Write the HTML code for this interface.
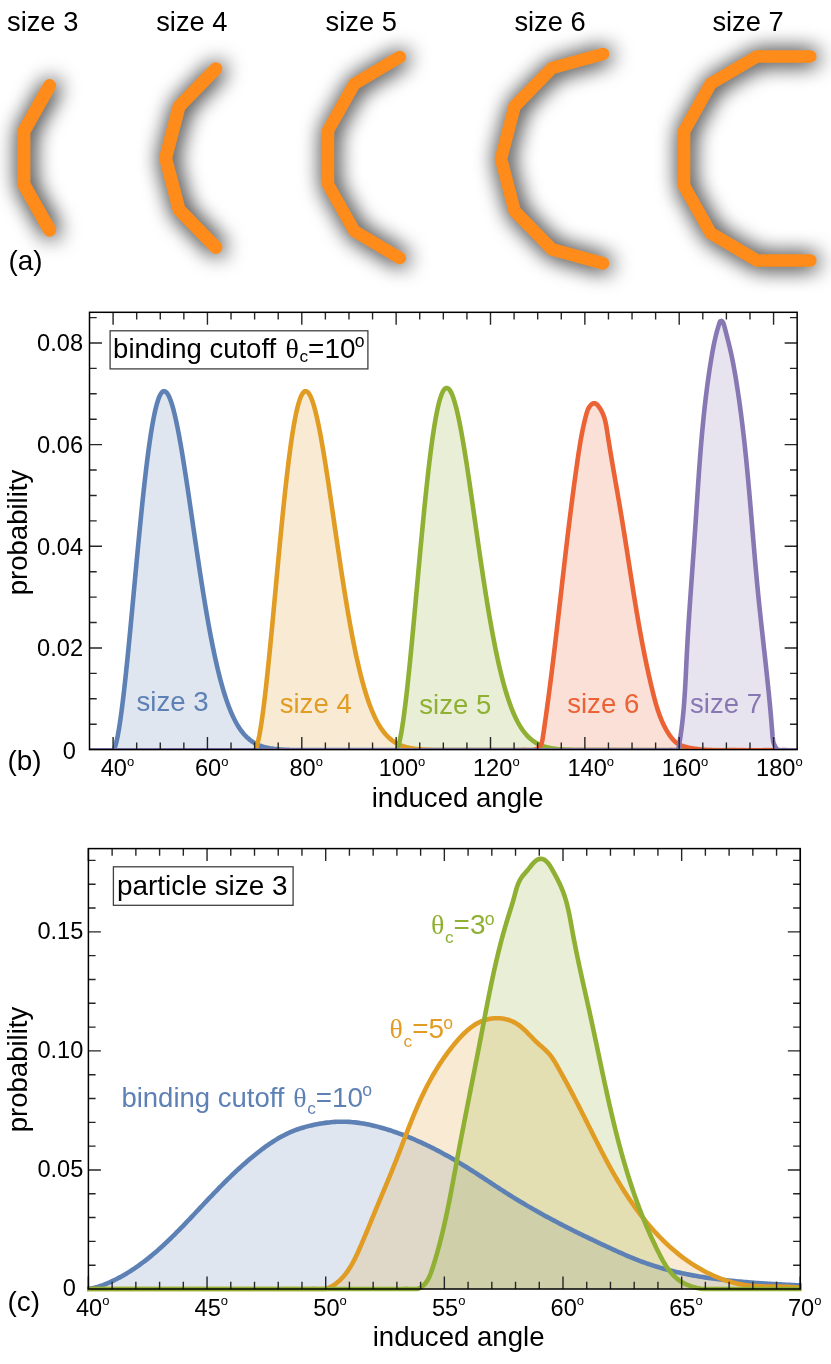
<!DOCTYPE html>
<html><head><meta charset="utf-8"><title>figure</title>
<style>
html,body{margin:0;padding:0;background:#fff;}
svg{display:block;will-change:transform;}
text{font-family:"Liberation Sans",sans-serif;fill:#000;}
</style></head><body>
<svg width="831" height="1364" viewBox="0 0 831 1364">
<defs>
<filter id="sh" filterUnits="userSpaceOnUse" x="-40" y="0" width="911" height="320" color-interpolation-filters="sRGB">
<feGaussianBlur in="SourceAlpha" stdDeviation="11" result="b"/>
<feOffset in="b" dx="1.5" dy="1" result="o0"/>
<feComponentTransfer in="o0" result="o"><feFuncA type="linear" slope="1.15"/></feComponentTransfer>
<feFlood flood-color="#000" flood-opacity="1"/>
<feComposite in2="o" operator="in" result="s"/>
<feMerge><feMergeNode in="s"/><feMergeNode in="SourceGraphic"/></feMerge>
</filter>

<clipPath id="cb"><rect x="89.5" y="309.3" width="707.6" height="440.7"/></clipPath>
<clipPath id="cc"><rect x="87.10000000000001" y="845.6" width="714.5" height="446.4"/></clipPath>
<path id="p0" d="M77.50,749.60 89.50,749.60 113.09,749.60 114.27,748.18 115.45,745.01 116.63,740.50 117.81,734.84 118.99,728.16 120.17,720.55 121.34,712.11 122.52,702.92 123.70,693.06 124.88,682.60 126.06,671.61 127.24,660.17 128.42,648.35 129.60,636.21 130.78,623.83 131.96,611.26 133.14,598.59 134.32,585.86 135.50,573.15 136.68,560.51 137.86,548.00 139.04,535.68 140.22,523.61 141.39,511.84 142.57,500.41 143.75,489.38 144.93,478.78 146.11,468.65 147.29,459.04 148.47,449.98 149.65,441.49 150.83,433.60 152.01,426.33 153.19,419.72 154.37,413.76 155.55,408.47 156.73,403.86 157.91,399.94 159.09,396.71 160.27,394.16 161.44,392.30 162.62,391.11 163.80,390.58 164.98,390.71 166.16,391.47 167.34,392.85 168.52,394.83 169.70,397.38 170.88,400.49 172.06,404.12 173.24,408.25 174.42,412.86 175.60,417.91 176.78,423.38 177.96,429.23 179.14,435.43 180.32,441.96 181.50,448.78 182.67,455.86 183.85,463.16 185.03,470.67 186.21,478.35 187.39,486.18 188.57,494.11 189.75,502.13 190.93,510.21 192.11,518.32 193.29,526.45 194.47,534.56 195.65,542.63 196.83,550.65 198.01,558.60 199.19,566.45 200.37,574.19 201.55,581.81 202.72,589.29 203.90,596.61 205.08,603.78 206.26,610.77 207.44,617.59 208.62,624.21 209.80,630.64 210.98,636.87 212.16,642.89 213.34,648.71 214.52,654.32 215.70,659.72 216.88,664.90 218.06,669.88 219.24,674.65 220.42,679.21 221.60,683.56 222.78,687.72 223.95,691.67 225.13,695.44 226.31,699.01 227.49,702.40 228.67,705.60 229.85,708.64 231.03,711.51 232.21,714.21 233.39,716.75 234.57,719.15 235.75,721.40 236.93,723.51 238.11,725.49 239.29,727.34 240.47,729.07 241.65,730.69 242.83,732.20 244.00,733.60 245.18,734.91 246.36,736.12 247.54,737.25 248.72,738.29 249.90,739.25 251.08,740.15 252.26,740.97 253.44,741.73 254.62,742.43 255.80,743.08 256.98,743.67 258.16,744.22 259.34,744.72 260.52,745.17 261.70,745.59 262.88,745.97 264.05,746.32 265.23,746.64 266.41,746.93 267.59,747.20 268.77,747.44 269.95,747.66 271.13,747.85 272.31,748.03 273.49,748.20 274.67,748.34 275.85,748.47 277.03,748.59 278.21,748.70 279.39,748.80 280.57,748.89 281.75,748.96 282.93,749.03 284.11,749.10 285.28,749.15 286.46,749.20 287.64,749.25 288.82,749.29 290.00,749.33 291.18,749.36 292.36,749.39 293.54,749.41 294.72,749.43 295.90,749.45 297.08,749.47 298.26,749.49 299.44,749.50 300.62,749.51 301.80,749.52 797.15,749.60 809.15,749.60 L809.1,749.6"/>
<path id="p1" d="M77.50,749.60 89.50,749.60 254.62,749.60 255.80,748.18 256.98,745.01 258.16,740.50 259.34,734.84 260.52,728.16 261.70,720.55 262.88,712.11 264.05,702.92 265.23,693.06 266.41,682.60 267.59,671.61 268.77,660.17 269.95,648.35 271.13,636.21 272.31,623.83 273.49,611.26 274.67,598.59 275.85,585.86 277.03,573.15 278.21,560.51 279.39,548.00 280.57,535.68 281.75,523.61 282.93,511.84 284.11,500.41 285.28,489.38 286.46,478.78 287.64,468.65 288.82,459.04 290.00,449.98 291.18,441.49 292.36,433.60 293.54,426.33 294.72,419.72 295.90,413.76 297.08,408.47 298.26,403.86 299.44,399.94 300.62,396.71 301.80,394.16 302.98,392.30 304.16,391.11 305.33,390.58 306.51,390.71 307.69,391.47 308.87,392.85 310.05,394.83 311.23,397.38 312.41,400.49 313.59,404.12 314.77,408.25 315.95,412.86 317.13,417.91 318.31,423.38 319.49,429.23 320.67,435.43 321.85,441.96 323.03,448.78 324.21,455.86 325.38,463.16 326.56,470.67 327.74,478.35 328.92,486.18 330.10,494.11 331.28,502.13 332.46,510.21 333.64,518.32 334.82,526.45 336.00,534.56 337.18,542.63 338.36,550.65 339.54,558.60 340.72,566.45 341.90,574.19 343.08,581.81 344.26,589.29 345.44,596.61 346.61,603.78 347.79,610.77 348.97,617.59 350.15,624.21 351.33,630.64 352.51,636.87 353.69,642.89 354.87,648.71 356.05,654.32 357.23,659.72 358.41,664.90 359.59,669.88 360.77,674.65 361.95,679.21 363.13,683.56 364.31,687.72 365.49,691.67 366.66,695.44 367.84,699.01 369.02,702.40 370.20,705.60 371.38,708.64 372.56,711.51 373.74,714.21 374.92,716.75 376.10,719.15 377.28,721.40 378.46,723.51 379.64,725.49 380.82,727.34 382.00,729.07 383.18,730.69 384.36,732.20 385.54,733.60 386.72,734.91 387.89,736.12 389.07,737.25 390.25,738.29 391.43,739.25 392.61,740.15 393.79,740.97 394.97,741.73 396.15,742.43 397.33,743.08 398.51,743.67 399.69,744.22 400.87,744.72 402.05,745.17 403.23,745.59 404.41,745.97 405.59,746.32 406.77,746.64 407.94,746.93 409.12,747.20 410.30,747.44 411.48,747.66 412.66,747.85 413.84,748.03 415.02,748.20 416.20,748.34 417.38,748.47 418.56,748.59 419.74,748.70 420.92,748.80 422.10,748.89 423.28,748.96 424.46,749.03 425.64,749.10 426.82,749.15 427.99,749.20 429.17,749.25 430.35,749.29 431.53,749.33 432.71,749.36 433.89,749.39 435.07,749.41 436.25,749.43 437.43,749.45 438.61,749.47 439.79,749.49 440.97,749.50 442.15,749.51 443.33,749.52 797.15,749.60 809.15,749.60 L809.1,749.6"/>
<path id="p2" d="M77.50,749.60 89.50,749.60 396.15,749.60 397.32,748.17 398.49,744.97 399.65,740.42 400.82,734.71 401.99,727.96 403.16,720.29 404.32,711.77 405.49,702.50 406.66,692.55 407.83,681.99 408.99,670.91 410.16,659.37 411.33,647.44 412.50,635.19 413.66,622.70 414.83,610.02 416.00,597.23 417.17,584.39 418.34,571.56 419.50,558.80 420.67,546.19 421.84,533.76 423.01,521.58 424.17,509.70 425.34,498.17 426.51,487.03 427.68,476.34 428.84,466.12 430.01,456.43 431.18,447.28 432.35,438.71 433.51,430.75 434.68,423.43 435.85,416.75 437.02,410.73 438.19,405.40 439.35,400.75 440.52,396.80 441.69,393.53 442.86,390.96 444.02,389.08 445.19,387.88 446.36,387.35 447.53,387.48 448.69,388.25 449.86,389.64 451.03,391.63 452.20,394.21 453.36,397.34 454.53,401.01 455.70,405.18 456.87,409.83 458.03,414.93 459.20,420.44 460.37,426.35 461.54,432.60 462.71,439.19 463.87,446.07 465.04,453.21 466.21,460.59 467.38,468.16 468.54,475.91 469.71,483.80 470.88,491.81 472.05,499.90 473.21,508.06 474.38,516.24 475.55,524.44 476.72,532.62 477.88,540.77 479.05,548.86 480.22,556.88 481.39,564.80 482.56,572.61 483.72,580.30 484.89,587.84 486.06,595.24 487.23,602.47 488.39,609.52 489.56,616.40 490.73,623.08 491.90,629.57 493.06,635.85 494.23,641.93 495.40,647.80 496.57,653.46 497.73,658.91 498.90,664.14 500.07,669.16 501.24,673.97 502.40,678.57 503.57,682.97 504.74,687.16 505.91,691.15 507.08,694.95 508.24,698.55 509.41,701.97 510.58,705.21 511.75,708.27 512.91,711.16 514.08,713.89 515.25,716.46 516.42,718.88 517.58,721.15 518.75,723.28 519.92,725.27 521.09,727.14 522.25,728.89 523.42,730.52 524.59,732.04 525.76,733.46 526.93,734.77 528.09,736.00 529.26,737.13 530.43,738.19 531.60,739.16 532.76,740.06 533.93,740.89 535.10,741.66 536.27,742.37 537.43,743.02 538.60,743.62 539.77,744.17 540.94,744.67 542.10,745.13 543.27,745.56 544.44,745.94 545.61,746.29 546.77,746.62 547.94,746.91 549.11,747.18 550.28,747.42 551.45,747.64 552.61,747.84 553.78,748.02 554.95,748.18 556.12,748.33 557.28,748.46 558.45,748.59 559.62,748.69 560.79,748.79 561.95,748.88 563.12,748.96 564.29,749.03 565.46,749.09 566.62,749.15 567.79,749.20 568.96,749.25 570.13,749.29 571.30,749.32 572.46,749.36 573.63,749.38 574.80,749.41 575.97,749.43 577.13,749.45 578.30,749.47 579.47,749.49 580.64,749.50 581.80,749.51 582.97,749.52 797.15,749.60 809.15,749.60 L809.1,749.6"/>
<path id="p3" d="M77.50,749.60 89.50,749.60 521.03,749.59 523.02,749.42 525.01,749.53 526.99,749.60 528.98,749.60 530.97,749.60 532.95,749.60 534.88,749.22 536.72,748.45 538.41,747.39 539.83,745.99 540.90,744.32 541.65,742.47 542.17,740.55 542.55,738.59 542.86,736.62 543.15,734.64 543.45,732.67 543.74,730.70 544.03,728.72 544.31,726.75 544.60,724.77 544.88,722.80 545.16,720.82 545.44,718.85 545.72,716.87 546.00,714.90 546.27,712.92 546.55,710.95 546.82,708.97 547.09,706.99 547.36,705.02 547.63,703.04 547.90,701.06 548.16,699.08 548.42,697.11 548.69,695.13 548.95,693.15 549.21,691.17 549.46,689.20 549.72,687.22 549.98,685.24 550.23,683.26 550.48,681.28 550.74,679.30 550.99,677.32 551.24,675.34 551.49,673.36 551.73,671.38 551.98,669.41 552.23,667.43 552.47,665.45 552.71,663.47 552.96,661.49 553.20,659.51 553.44,657.52 553.68,655.54 553.92,653.56 554.16,651.58 554.39,649.60 554.63,647.62 554.87,645.64 555.10,643.66 555.34,641.68 555.57,639.70 555.80,637.72 556.04,635.73 556.27,633.75 556.50,631.77 556.73,629.79 556.96,627.81 557.19,625.83 557.42,623.85 557.65,621.86 557.88,619.88 558.11,617.90 558.33,615.92 558.56,613.94 558.79,611.95 559.02,609.97 559.24,607.99 559.47,606.01 559.70,604.03 559.92,602.04 560.15,600.06 560.38,598.08 560.60,596.10 560.83,594.12 561.06,592.13 561.28,590.15 561.51,588.17 561.73,586.19 561.96,584.21 562.19,582.22 562.41,580.24 562.64,578.26 562.87,576.28 563.10,574.30 563.32,572.31 563.55,570.33 563.78,568.35 564.01,566.37 564.24,564.39 564.47,562.40 564.70,560.42 564.93,558.44 565.16,556.46 565.39,554.48 565.62,552.50 565.85,550.52 566.09,548.53 566.32,546.55 566.56,544.57 566.79,542.59 567.03,540.61 567.26,538.63 567.50,536.65 567.74,534.67 567.98,532.69 568.21,530.71 568.45,528.73 568.70,526.75 568.94,524.77 569.18,522.78 569.42,520.80 569.67,518.82 569.91,516.85 570.16,514.87 570.41,512.89 570.66,510.91 570.91,508.93 571.16,506.95 571.41,504.97 571.66,502.99 571.92,501.01 572.17,499.03 572.43,497.05 572.68,495.08 572.94,493.10 573.20,491.12 573.47,489.14 573.73,487.17 573.99,485.19 574.26,483.21 574.53,481.23 574.79,479.26 575.06,477.28 575.34,475.30 575.61,473.33 575.88,471.35 576.16,469.38 576.44,467.40 576.72,465.43 577.00,463.45 577.28,461.48 577.57,459.50 577.85,457.53 578.14,455.55 578.44,453.58 578.74,451.61 579.04,449.64 579.35,447.66 579.67,445.70 579.99,443.73 580.32,441.76 580.66,439.79 581.01,437.83 581.37,435.87 581.74,433.91 582.12,431.95 582.51,429.99 582.91,428.04 583.33,426.09 583.76,424.14 584.20,422.19 584.66,420.25 585.14,418.31 585.62,416.38 586.13,414.45 586.65,412.52 587.24,410.62 587.96,408.76 588.87,406.99 590.00,405.34 591.35,403.88 593.00,402.76 594.94,402.57 596.63,403.59 597.99,405.05 599.21,406.63 600.32,408.29 601.33,410.01 602.23,411.78 603.04,413.61 603.75,415.47 604.38,417.37 604.93,419.28 605.41,421.22 605.84,423.17 606.21,425.13 606.56,427.09 606.88,429.06 607.18,431.03 607.49,433.00 607.79,434.98 608.10,436.95 608.41,438.92 608.72,440.89 609.04,442.86 609.36,444.83 609.68,446.80 610.00,448.76 610.33,450.73 610.65,452.70 610.98,454.67 611.31,456.64 611.64,458.60 611.98,460.57 612.31,462.54 612.65,464.50 612.99,466.47 613.32,468.44 613.66,470.40 614.00,472.37 614.34,474.33 614.68,476.30 615.03,478.26 615.37,480.23 615.71,482.19 616.05,484.16 616.39,486.13 616.73,488.09 617.08,490.06 617.42,492.02 617.76,493.99 618.10,495.95 618.44,497.92 618.77,499.89 619.11,501.85 619.45,503.82 619.78,505.79 620.11,507.75 620.45,509.72 620.78,511.69 621.11,513.65 621.43,515.62 621.76,517.59 622.08,519.56 622.40,521.53 622.72,523.50 623.04,525.47 623.36,527.44 623.68,529.41 623.99,531.38 624.31,533.35 624.62,535.32 624.93,537.29 625.24,539.26 625.56,541.23 625.87,543.20 626.18,545.17 626.48,547.14 626.79,549.11 627.10,551.08 627.41,553.05 627.71,555.02 628.02,556.99 628.33,558.97 628.63,560.94 628.94,562.91 629.25,564.88 629.55,566.85 629.86,568.82 630.17,570.79 630.47,572.76 630.78,574.74 631.09,576.71 631.40,578.68 631.71,580.65 632.02,582.62 632.33,584.59 632.64,586.56 632.95,588.53 633.27,590.50 633.58,592.47 633.90,594.44 634.22,596.41 634.54,598.38 634.86,600.35 635.18,602.32 635.50,604.29 635.83,606.25 636.16,608.22 636.48,610.19 636.81,612.16 637.15,614.12 637.48,616.09 637.82,618.06 638.16,620.02 638.50,621.99 638.85,623.95 639.19,625.92 639.54,627.88 639.89,629.84 640.25,631.81 640.61,633.77 640.97,635.73 641.33,637.69 641.70,639.66 642.06,641.62 642.44,643.58 642.81,645.53 643.19,647.49 643.58,649.45 643.96,651.41 644.35,653.37 644.75,655.32 645.14,657.28 645.54,659.23 645.95,661.18 646.36,663.14 646.77,665.09 647.19,667.04 647.61,668.99 648.04,670.94 648.47,672.89 648.90,674.83 649.34,676.78 649.78,678.72 650.23,680.67 650.68,682.61 651.14,684.55 651.60,686.49 652.07,688.43 652.54,690.37 653.02,692.31 653.50,694.24 654.00,696.18 654.50,698.11 655.02,700.03 655.55,701.96 656.10,703.87 656.66,705.79 657.25,707.69 657.86,709.59 658.49,711.48 659.15,713.37 659.84,715.24 660.56,717.10 661.31,718.95 662.09,720.79 662.91,722.61 663.76,724.41 664.65,726.19 665.59,727.96 666.56,729.70 667.57,731.42 668.63,733.11 669.73,734.77 670.89,736.40 672.11,737.97 673.43,739.47 674.85,740.87 676.38,742.14 678.04,743.26 679.79,744.21 681.62,745.00 683.50,745.66 685.42,746.22 687.35,746.70 689.30,747.13 691.26,747.51 693.23,747.86 695.20,748.17 697.17,748.45 699.15,748.69 701.14,748.90 703.12,749.08 705.11,749.24 707.10,749.36 709.09,749.46 711.09,749.54 713.08,749.60 715.08,749.60 717.07,749.60 719.07,749.60 721.06,749.60 723.06,749.60 725.05,749.60 727.05,749.59 729.04,749.55 797.15,749.60 809.15,749.60 L809.1,749.6"/>
<path id="p4" d="M77.50,749.60 89.50,749.60 663.00,749.60 665.00,749.60 667.00,749.60 669.00,749.59 671.00,749.57 672.99,749.60 674.99,749.60 676.96,749.50 678.29,748.09 678.74,746.15 679.10,744.18 679.44,742.21 679.78,740.24 680.09,738.26 680.40,736.29 680.70,734.31 680.98,732.33 681.26,730.35 681.52,728.36 681.77,726.38 682.01,724.40 682.25,722.41 682.47,720.42 682.69,718.43 682.89,716.45 683.09,714.46 683.28,712.46 683.46,710.47 683.64,708.48 683.80,706.49 683.96,704.49 684.12,702.50 684.27,700.51 684.41,698.51 684.55,696.52 684.68,694.52 684.81,692.52 684.93,690.53 685.05,688.53 685.17,686.54 685.28,684.54 685.39,682.54 685.49,680.55 685.60,678.55 685.70,676.55 685.80,674.55 685.90,672.56 686.00,670.56 686.09,668.56 686.19,666.56 686.29,664.57 686.38,662.57 686.48,660.57 686.58,658.57 686.68,656.58 686.78,654.58 686.88,652.58 686.99,650.58 687.09,648.59 687.20,646.59 687.31,644.59 687.42,642.60 687.53,640.60 687.65,638.60 687.77,636.61 687.88,634.61 688.00,632.62 688.12,630.62 688.25,628.62 688.37,626.63 688.50,624.63 688.62,622.64 688.75,620.64 688.88,618.64 689.01,616.65 689.14,614.65 689.27,612.66 689.40,610.66 689.54,608.67 689.67,606.67 689.81,604.68 689.94,602.68 690.08,600.69 690.22,598.69 690.36,596.69 690.50,594.70 690.64,592.70 690.78,590.71 690.92,588.72 691.06,586.72 691.20,584.73 691.34,582.73 691.48,580.74 691.63,578.74 691.77,576.75 691.91,574.75 692.05,572.76 692.20,570.76 692.34,568.77 692.48,566.77 692.63,564.78 692.77,562.78 692.91,560.79 693.06,558.79 693.20,556.80 693.34,554.80 693.48,552.81 693.62,550.81 693.77,548.82 693.91,546.82 694.05,544.83 694.19,542.83 694.33,540.84 694.46,538.84 694.60,536.85 694.74,534.85 694.88,532.86 695.01,530.86 695.15,528.87 695.28,526.87 695.41,524.88 695.55,522.88 695.68,520.89 695.81,518.89 695.94,516.90 696.07,514.90 696.20,512.91 696.34,510.91 696.47,508.91 696.60,506.92 696.73,504.92 696.86,502.93 696.99,500.93 697.12,498.94 697.25,496.94 697.38,494.95 697.51,492.95 697.65,490.95 697.78,488.96 697.91,486.96 698.05,484.97 698.18,482.97 698.32,480.98 698.46,478.98 698.60,476.99 698.74,474.99 698.88,473.00 699.02,471.00 699.16,469.01 699.30,467.01 699.45,465.02 699.60,463.02 699.75,461.03 699.90,459.04 700.05,457.04 700.20,455.05 700.36,453.05 700.52,451.06 700.68,449.07 700.84,447.07 701.00,445.08 701.17,443.09 701.33,441.09 701.51,439.10 701.68,437.11 701.85,435.12 702.03,433.13 702.21,431.13 702.39,429.14 702.58,427.15 702.77,425.16 702.96,423.17 703.16,421.18 703.35,419.19 703.55,417.20 703.76,415.21 703.96,413.22 704.18,411.23 704.39,409.24 704.61,407.26 704.83,405.27 705.05,403.28 705.28,401.29 705.51,399.31 705.75,397.32 705.99,395.34 706.23,393.35 706.48,391.37 706.73,389.38 706.98,387.40 707.24,385.42 707.51,383.43 707.78,381.45 708.05,379.47 708.33,377.49 708.61,375.51 708.89,373.53 709.18,371.55 709.48,369.58 709.78,367.60 710.09,365.62 710.40,363.65 710.71,361.67 711.03,359.70 711.36,357.72 711.69,355.75 712.03,353.78 712.37,351.81 712.73,349.84 713.09,347.88 713.47,345.91 713.86,343.95 714.26,341.99 714.68,340.04 715.12,338.09 715.58,336.14 716.05,334.20 716.55,332.26 717.07,330.33 717.61,328.40 718.18,326.49 718.77,324.58 719.39,322.67 720.04,320.78 721.55,320.18 722.93,321.60 723.69,323.44 724.26,325.36 724.80,327.29 725.31,329.22 725.81,331.16 726.30,333.10 726.79,335.03 727.29,336.97 727.78,338.91 728.28,340.85 728.76,342.79 729.24,344.73 729.71,346.67 730.16,348.62 730.61,350.57 731.04,352.52 731.46,354.48 731.87,356.43 732.27,358.39 732.67,360.35 733.05,362.32 733.42,364.28 733.79,366.25 734.15,368.22 734.50,370.18 734.84,372.15 735.18,374.13 735.51,376.10 735.84,378.07 736.16,380.04 736.48,382.02 736.79,383.99 737.10,385.97 737.41,387.95 737.71,389.92 738.01,391.90 738.30,393.88 738.59,395.86 738.88,397.84 739.17,399.82 739.45,401.80 739.72,403.78 739.99,405.76 740.26,407.74 740.53,409.72 740.79,411.70 741.05,413.69 741.31,415.67 741.56,417.65 741.81,419.64 742.06,421.62 742.30,423.61 742.54,425.59 742.78,427.58 743.02,429.56 743.25,431.55 743.48,433.54 743.70,435.52 743.93,437.51 744.15,439.50 744.37,441.49 744.59,443.47 744.80,445.46 745.02,447.45 745.23,449.44 745.43,451.43 745.64,453.42 745.84,455.41 746.05,457.40 746.25,459.39 746.44,461.38 746.64,463.37 746.83,465.36 747.03,467.35 747.22,469.34 747.41,471.33 747.59,473.32 747.78,475.31 747.96,477.30 748.15,479.30 748.33,481.29 748.51,483.28 748.69,485.27 748.87,487.26 749.05,489.25 749.22,491.25 749.40,493.24 749.57,495.23 749.74,497.22 749.92,499.22 750.09,501.21 750.26,503.20 750.43,505.19 750.60,507.19 750.77,509.18 750.93,511.17 751.10,513.16 751.27,515.16 751.44,517.15 751.60,519.14 751.77,521.14 751.94,523.13 752.10,525.12 752.27,527.11 752.44,529.11 752.60,531.10 752.77,533.09 752.94,535.09 753.10,537.08 753.27,539.07 753.44,541.06 753.61,543.06 753.77,545.05 753.94,547.04 754.11,549.04 754.28,551.03 754.45,553.02 754.62,555.01 754.80,557.01 754.97,559.00 755.14,560.99 755.32,562.98 755.49,564.97 755.67,566.97 755.85,568.96 756.03,570.95 756.21,572.94 756.39,574.93 756.57,576.92 756.76,578.92 756.94,580.91 757.13,582.90 757.32,584.89 757.51,586.88 757.70,588.87 757.90,590.86 758.09,592.85 758.29,594.84 758.49,596.83 758.69,598.82 758.90,600.81 759.10,602.80 759.31,604.79 759.51,606.78 759.72,608.77 759.93,610.76 760.14,612.74 760.36,614.73 760.57,616.72 760.78,618.71 761.00,620.70 761.22,622.69 761.43,624.67 761.65,626.66 761.87,628.65 762.09,630.64 762.31,632.63 762.53,634.61 762.75,636.60 762.97,638.59 763.19,640.58 763.41,642.56 763.63,644.55 763.85,646.54 764.07,648.53 764.29,650.51 764.51,652.50 764.73,654.49 764.95,656.48 765.17,658.47 765.38,660.45 765.60,662.44 765.82,664.43 766.03,666.42 766.25,668.41 766.46,670.39 766.68,672.38 766.89,674.37 767.10,676.36 767.31,678.35 767.52,680.34 767.73,682.33 767.93,684.32 768.14,686.31 768.34,688.30 768.54,690.28 768.74,692.27 768.94,694.26 769.13,696.26 769.33,698.25 769.52,700.24 769.71,702.23 769.90,704.22 770.08,706.21 770.26,708.20 770.45,710.19 770.62,712.18 770.80,714.18 770.97,716.17 771.14,718.16 771.31,720.15 771.48,722.15 771.64,724.14 771.80,726.13 771.96,728.13 772.11,730.12 772.26,732.12 772.41,734.11 772.58,736.10 772.80,738.09 773.11,740.07 773.55,742.02 774.17,743.92 775.00,745.73 776.07,747.42 777.40,748.91 779.09,749.60 781.07,749.60 783.03,749.50 785.02,749.49 787.01,749.60 789.00,749.60 797.15,749.60 809.15,749.60 L809.1,749.6"/>
<path id="p5" d="M67.46,1289.00 79.46,1289.00 81.46,1289.00 83.46,1289.00 85.45,1289.00 87.44,1288.94 89.43,1288.69 91.40,1288.36 93.36,1287.96 95.30,1287.50 97.23,1286.98 99.14,1286.41 101.04,1285.78 102.93,1285.11 104.79,1284.40 106.64,1283.65 108.48,1282.87 110.31,1282.05 112.12,1281.21 113.92,1280.35 115.72,1279.46 117.50,1278.55 119.26,1277.62 121.02,1276.67 122.76,1275.69 124.50,1274.70 126.22,1273.68 127.93,1272.65 129.62,1271.59 131.31,1270.52 132.98,1269.42 134.64,1268.31 136.29,1267.19 137.93,1266.04 139.56,1264.88 141.17,1263.71 142.78,1262.51 144.37,1261.31 145.95,1260.09 147.53,1258.85 149.09,1257.61 150.64,1256.35 152.18,1255.07 153.71,1253.79 155.23,1252.50 156.75,1251.19 158.25,1249.87 159.74,1248.55 161.23,1247.21 162.71,1245.87 164.18,1244.51 165.64,1243.15 167.09,1241.78 168.54,1240.40 169.98,1239.02 171.42,1237.62 172.84,1236.22 174.27,1234.82 175.68,1233.41 177.09,1231.99 178.50,1230.57 179.90,1229.15 181.29,1227.72 182.69,1226.29 184.07,1224.85 185.46,1223.41 186.84,1221.96 188.22,1220.52 189.60,1219.07 190.97,1217.62 192.34,1216.16 193.71,1214.71 195.08,1213.25 196.45,1211.79 197.82,1210.34 199.18,1208.88 200.55,1207.42 201.92,1205.96 203.28,1204.51 204.65,1203.05 206.02,1201.60 207.39,1200.14 208.77,1198.69 210.14,1197.24 211.52,1195.79 212.90,1194.35 214.29,1192.91 215.67,1191.47 217.06,1190.03 218.46,1188.60 219.85,1187.17 221.26,1185.75 222.66,1184.33 224.07,1182.91 225.49,1181.50 226.91,1180.10 228.33,1178.70 229.77,1177.30 231.20,1175.91 232.64,1174.53 234.09,1173.15 235.55,1171.78 237.01,1170.42 238.48,1169.06 239.95,1167.71 241.43,1166.37 242.92,1165.04 244.42,1163.71 245.92,1162.40 247.43,1161.09 248.95,1159.79 250.48,1158.50 252.01,1157.22 253.56,1155.95 255.11,1154.70 256.67,1153.45 258.24,1152.21 259.82,1150.98 261.41,1149.77 263.00,1148.57 264.61,1147.39 266.24,1146.22 267.87,1145.07 269.52,1143.94 271.17,1142.82 272.85,1141.73 274.53,1140.66 276.24,1139.61 277.95,1138.58 279.68,1137.58 281.43,1136.61 283.19,1135.67 284.97,1134.75 286.76,1133.87 288.56,1133.02 290.39,1132.20 292.23,1131.41 294.08,1130.67 295.95,1129.95 297.83,1129.27 299.72,1128.63 301.62,1128.01 303.53,1127.43 305.45,1126.88 307.38,1126.36 309.32,1125.87 311.26,1125.40 313.21,1124.97 315.17,1124.56 317.13,1124.18 319.10,1123.82 321.07,1123.48 323.04,1123.18 325.02,1122.90 327.00,1122.64 328.99,1122.42 330.98,1122.22 332.97,1122.05 334.96,1121.92 336.96,1121.81 338.95,1121.74 340.95,1121.70 342.95,1121.69 344.95,1121.72 346.94,1121.79 348.94,1121.89 350.93,1122.02 352.93,1122.18 354.91,1122.38 356.90,1122.61 358.88,1122.87 360.86,1123.16 362.83,1123.47 364.80,1123.82 366.77,1124.18 368.72,1124.58 370.68,1125.00 372.63,1125.44 374.57,1125.90 376.51,1126.39 378.44,1126.89 380.37,1127.41 382.30,1127.96 384.21,1128.52 386.13,1129.10 388.03,1129.69 389.94,1130.30 391.84,1130.92 393.73,1131.56 395.62,1132.21 397.50,1132.88 399.38,1133.56 401.26,1134.25 403.13,1134.96 404.99,1135.68 406.85,1136.41 408.70,1137.16 410.55,1137.91 412.40,1138.68 414.24,1139.47 416.07,1140.26 417.90,1141.07 419.72,1141.88 421.54,1142.71 423.36,1143.55 425.16,1144.40 426.97,1145.26 428.77,1146.13 430.56,1147.01 432.35,1147.91 434.13,1148.81 435.91,1149.72 437.68,1150.64 439.45,1151.57 441.22,1152.51 442.97,1153.46 444.73,1154.42 446.48,1155.38 448.22,1156.36 449.96,1157.34 451.70,1158.33 453.43,1159.33 455.16,1160.33 456.88,1161.35 458.60,1162.37 460.31,1163.40 462.02,1164.43 463.72,1165.48 465.42,1166.53 467.12,1167.58 468.81,1168.64 470.50,1169.71 472.19,1170.78 473.88,1171.86 475.56,1172.94 477.24,1174.02 478.91,1175.11 480.59,1176.20 482.26,1177.29 483.93,1178.38 485.61,1179.48 487.28,1180.57 488.95,1181.67 490.62,1182.77 492.29,1183.87 493.96,1184.96 495.63,1186.06 497.30,1187.15 498.98,1188.24 500.65,1189.33 502.33,1190.42 504.01,1191.50 505.69,1192.58 507.38,1193.65 509.06,1194.72 510.76,1195.79 512.45,1196.85 514.15,1197.90 515.85,1198.95 517.56,1199.99 519.26,1201.03 520.98,1202.06 522.69,1203.08 524.41,1204.10 526.13,1205.11 527.86,1206.12 529.59,1207.13 531.32,1208.12 533.05,1209.12 534.79,1210.10 536.53,1211.09 538.27,1212.06 540.02,1213.04 541.77,1214.00 543.52,1214.97 545.27,1215.93 547.03,1216.88 548.79,1217.83 550.55,1218.77 552.31,1219.71 554.08,1220.65 555.85,1221.58 557.62,1222.51 559.39,1223.43 561.16,1224.35 562.94,1225.26 564.72,1226.18 566.50,1227.08 568.28,1227.99 570.07,1228.89 571.85,1229.78 573.64,1230.68 575.43,1231.57 577.22,1232.45 579.01,1233.34 580.81,1234.22 582.60,1235.09 584.40,1235.97 586.20,1236.84 588.00,1237.70 589.80,1238.57 591.60,1239.43 593.41,1240.29 595.21,1241.15 597.02,1242.00 598.83,1242.86 600.63,1243.71 602.44,1244.55 604.25,1245.40 606.07,1246.24 607.88,1247.08 609.69,1247.92 611.51,1248.76 613.32,1249.60 615.14,1250.43 616.96,1251.25 618.78,1252.08 620.61,1252.89 622.43,1253.70 624.26,1254.50 626.10,1255.30 627.93,1256.09 629.77,1256.86 631.62,1257.63 633.47,1258.39 635.32,1259.14 637.18,1259.88 639.04,1260.60 640.91,1261.31 642.78,1262.01 644.66,1262.69 646.54,1263.36 648.43,1264.01 650.33,1264.65 652.22,1265.27 654.13,1265.88 656.04,1266.48 657.95,1267.06 659.86,1267.62 661.78,1268.18 663.71,1268.72 665.64,1269.25 667.57,1269.76 669.50,1270.26 671.44,1270.75 673.38,1271.23 675.32,1271.70 677.27,1272.15 679.22,1272.59 681.17,1273.02 683.12,1273.44 685.08,1273.85 687.04,1274.25 689.00,1274.63 690.96,1275.01 692.93,1275.38 694.89,1275.73 696.86,1276.08 698.83,1276.42 700.80,1276.75 702.77,1277.07 704.75,1277.38 706.72,1277.68 708.70,1277.97 710.68,1278.26 712.66,1278.53 714.64,1278.80 716.62,1279.06 718.60,1279.31 720.58,1279.56 722.57,1279.80 724.55,1280.03 726.54,1280.25 728.53,1280.47 730.51,1280.68 732.50,1280.89 734.49,1281.09 736.48,1281.28 738.47,1281.46 740.46,1281.65 742.45,1281.82 744.44,1281.99 746.43,1282.16 748.42,1282.32 750.42,1282.48 752.41,1282.63 754.40,1282.78 756.39,1282.92 758.39,1283.06 760.38,1283.19 762.38,1283.33 764.37,1283.46 766.36,1283.58 768.36,1283.70 770.35,1283.83 772.35,1283.94 774.34,1284.06 776.34,1284.17 778.33,1284.28 780.33,1284.39 782.33,1284.50 784.32,1284.61 786.32,1284.71 788.31,1284.81 790.31,1284.92 792.30,1285.02 794.30,1285.12 796.30,1285.22 798.29,1285.32 800.29,1285.42 812.29,1285.42 L812.3,1289.0"/>
<path id="p6" d="M76.50,1289.00 88.50,1289.00 311.01,1289.00 312.99,1288.78 314.99,1288.85 316.98,1289.00 318.97,1289.00 320.96,1289.00 322.96,1289.00 324.93,1288.94 326.87,1288.44 328.75,1287.77 330.58,1286.95 332.34,1286.00 334.03,1284.94 335.66,1283.79 337.23,1282.55 338.74,1281.24 340.21,1279.88 341.62,1278.46 342.97,1276.99 344.28,1275.48 345.53,1273.92 346.74,1272.33 347.90,1270.70 349.01,1269.04 350.09,1267.35 351.12,1265.64 352.12,1263.91 353.08,1262.16 354.02,1260.39 354.93,1258.61 355.81,1256.81 356.67,1255.01 357.51,1253.20 358.33,1251.37 359.14,1249.55 359.95,1247.72 360.74,1245.88 361.53,1244.04 362.32,1242.20 363.10,1240.36 363.87,1238.52 364.65,1236.68 365.42,1234.83 366.19,1232.99 366.95,1231.14 367.72,1229.29 368.48,1227.44 369.24,1225.60 370.00,1223.75 370.76,1221.90 371.52,1220.05 372.28,1218.20 373.04,1216.35 373.80,1214.50 374.56,1212.65 375.32,1210.80 376.09,1208.96 376.86,1207.11 377.63,1205.26 378.40,1203.42 379.17,1201.57 379.94,1199.73 380.71,1197.88 381.48,1196.04 382.25,1194.19 383.02,1192.35 383.79,1190.51 384.56,1188.66 385.33,1186.81 386.10,1184.97 386.87,1183.12 387.63,1181.28 388.40,1179.43 389.16,1177.58 389.92,1175.73 390.68,1173.88 391.43,1172.03 392.18,1170.18 392.93,1168.32 393.68,1166.47 394.42,1164.61 395.16,1162.75 395.90,1160.90 396.63,1159.04 397.36,1157.17 398.09,1155.31 398.81,1153.45 399.53,1151.58 400.25,1149.71 400.96,1147.85 401.68,1145.98 402.39,1144.11 403.11,1142.25 403.82,1140.38 404.54,1138.51 405.25,1136.64 405.97,1134.78 406.69,1132.91 407.41,1131.05 408.13,1129.18 408.86,1127.32 409.59,1125.46 410.33,1123.60 411.07,1121.74 411.81,1119.89 412.56,1118.03 413.31,1116.18 414.08,1114.33 414.84,1112.49 415.62,1110.65 416.40,1108.81 417.19,1106.97 417.99,1105.14 418.80,1103.31 419.61,1101.48 420.44,1099.66 421.28,1097.84 422.12,1096.03 422.98,1094.23 423.85,1092.43 424.73,1090.63 425.62,1088.84 426.52,1087.06 427.44,1085.28 428.37,1083.51 429.31,1081.74 430.26,1079.99 431.23,1078.24 432.21,1076.49 433.20,1074.76 434.21,1073.03 435.23,1071.31 436.26,1069.60 437.31,1067.90 438.37,1066.20 439.45,1064.52 440.54,1062.85 441.65,1061.18 442.77,1059.52 443.91,1057.88 445.06,1056.24 446.22,1054.62 447.40,1053.01 448.60,1051.41 449.81,1049.82 451.04,1048.24 452.29,1046.67 453.55,1045.12 454.82,1043.58 456.11,1042.05 457.42,1040.54 458.74,1039.04 460.08,1037.56 461.44,1036.09 462.83,1034.66 464.25,1033.25 465.70,1031.87 467.18,1030.52 468.69,1029.22 470.25,1027.97 471.85,1026.76 473.48,1025.61 475.16,1024.53 476.89,1023.52 478.66,1022.58 480.46,1021.73 482.31,1020.97 484.20,1020.30 486.11,1019.72 488.05,1019.23 490.01,1018.83 491.98,1018.53 493.97,1018.32 495.97,1018.21 497.97,1018.20 499.96,1018.29 501.95,1018.48 503.93,1018.77 505.89,1019.17 507.82,1019.68 509.72,1020.30 511.59,1021.03 513.40,1021.87 515.16,1022.82 516.87,1023.85 518.53,1024.97 520.14,1026.16 521.70,1027.41 523.21,1028.71 524.69,1030.06 526.13,1031.45 527.54,1032.86 528.93,1034.30 530.30,1035.75 531.68,1037.20 533.06,1038.65 534.47,1040.07 535.89,1041.47 537.35,1042.84 538.84,1044.17 540.34,1045.49 541.85,1046.81 543.35,1048.13 544.83,1049.47 546.28,1050.85 547.69,1052.27 549.04,1053.74 550.32,1055.28 551.53,1056.87 552.68,1058.50 553.78,1060.17 554.84,1061.87 555.86,1063.59 556.87,1065.32 557.86,1067.05 558.85,1068.79 559.83,1070.53 560.80,1072.28 561.77,1074.02 562.74,1075.77 563.70,1077.53 564.66,1079.28 565.62,1081.04 566.57,1082.80 567.51,1084.56 568.46,1086.32 569.40,1088.09 570.33,1089.85 571.26,1091.62 572.19,1093.39 573.12,1095.16 574.04,1096.94 574.96,1098.71 575.88,1100.49 576.80,1102.27 577.71,1104.05 578.62,1105.83 579.53,1107.61 580.44,1109.39 581.34,1111.17 582.24,1112.95 583.15,1114.74 584.05,1116.52 584.94,1118.31 585.84,1120.10 586.74,1121.88 587.63,1123.67 588.53,1125.46 589.42,1127.25 590.32,1129.04 591.21,1130.82 592.11,1132.61 593.00,1134.40 593.90,1136.19 594.80,1137.97 595.70,1139.76 596.60,1141.54 597.50,1143.33 598.41,1145.11 599.31,1146.89 600.23,1148.67 601.14,1150.45 602.06,1152.22 602.98,1154.00 603.91,1155.77 604.84,1157.54 605.78,1159.31 606.72,1161.07 607.66,1162.83 608.62,1164.59 609.58,1166.34 610.54,1168.09 611.51,1169.84 612.49,1171.59 613.47,1173.33 614.47,1175.06 615.47,1176.79 616.47,1178.52 617.49,1180.24 618.51,1181.96 619.54,1183.68 620.58,1185.38 621.63,1187.09 622.68,1188.79 623.75,1190.48 624.82,1192.17 625.90,1193.85 626.99,1195.52 628.09,1197.19 629.20,1198.86 630.32,1200.51 631.45,1202.16 632.59,1203.80 633.74,1205.44 634.90,1207.07 636.07,1208.69 637.25,1210.30 638.44,1211.91 639.64,1213.51 640.85,1215.10 642.08,1216.68 643.31,1218.25 644.56,1219.81 645.82,1221.37 647.09,1222.91 648.37,1224.44 649.67,1225.97 650.97,1227.48 652.29,1228.99 653.62,1230.48 654.97,1231.96 656.32,1233.43 657.69,1234.88 659.07,1236.33 660.47,1237.76 661.87,1239.18 663.29,1240.59 664.73,1241.98 666.17,1243.36 667.63,1244.73 669.11,1246.08 670.59,1247.42 672.09,1248.74 673.61,1250.05 675.13,1251.34 676.67,1252.61 678.23,1253.87 679.79,1255.11 681.37,1256.34 682.97,1257.55 684.57,1258.74 686.19,1259.91 687.83,1261.06 689.47,1262.20 691.13,1263.31 692.80,1264.41 694.49,1265.49 696.19,1266.54 697.90,1267.58 699.62,1268.59 701.36,1269.58 703.10,1270.55 704.87,1271.50 706.64,1272.42 708.43,1273.32 710.22,1274.19 712.03,1275.04 713.86,1275.87 715.69,1276.66 717.54,1277.43 719.39,1278.17 721.26,1278.88 723.14,1279.57 725.03,1280.22 726.93,1280.84 728.84,1281.43 730.76,1281.99 732.69,1282.52 734.63,1283.01 736.57,1283.47 738.53,1283.89 740.49,1284.28 742.46,1284.63 744.43,1284.95 746.41,1285.23 748.40,1285.47 750.38,1285.68 752.37,1285.86 754.37,1286.01 756.36,1286.14 758.36,1286.24 760.36,1286.33 762.36,1286.39 764.35,1286.45 766.35,1286.49 768.35,1286.52 770.35,1286.54 772.35,1286.56 774.35,1286.58 776.35,1286.60 778.35,1286.62 780.35,1286.64 782.35,1286.68 784.35,1286.72 786.35,1286.78 788.34,1286.86 790.34,1286.95 792.34,1287.07 794.33,1287.21 796.32,1287.38 798.31,1287.57 800.30,1287.81 812.30,1287.81 L812.3,1289.0"/>
<path id="p7" d="M76.50,1289.00 88.50,1289.00 403.03,1289.00 405.01,1288.83 407.01,1288.84 409.01,1288.99 411.00,1289.00 412.99,1289.00 414.99,1289.00 416.97,1289.00 418.88,1288.46 420.65,1287.55 422.29,1286.40 423.79,1285.08 425.15,1283.61 426.37,1282.03 427.47,1280.36 428.45,1278.62 429.33,1276.82 430.12,1274.98 430.84,1273.12 431.51,1271.23 432.15,1269.34 432.76,1267.44 433.37,1265.53 433.97,1263.62 434.56,1261.71 435.14,1259.80 435.72,1257.88 436.28,1255.96 436.83,1254.04 437.38,1252.12 437.92,1250.19 438.44,1248.26 438.97,1246.33 439.48,1244.40 439.98,1242.46 440.48,1240.53 440.97,1238.59 441.46,1236.65 441.94,1234.71 442.41,1232.76 442.87,1230.82 443.33,1228.87 443.78,1226.92 444.23,1224.97 444.67,1223.02 445.10,1221.07 445.53,1219.12 445.95,1217.16 446.37,1215.21 446.79,1213.25 447.20,1211.29 447.61,1209.33 448.01,1207.37 448.41,1205.41 448.80,1203.45 449.19,1201.49 449.58,1199.53 449.96,1197.57 450.35,1195.61 450.72,1193.64 451.10,1191.68 451.48,1189.71 451.85,1187.75 452.22,1185.78 452.59,1183.82 452.96,1181.85 453.32,1179.89 453.69,1177.92 454.05,1175.95 454.42,1173.99 454.78,1172.02 455.14,1170.05 455.51,1168.09 455.87,1166.12 456.24,1164.15 456.60,1162.19 456.97,1160.22 457.33,1158.26 457.70,1156.29 458.07,1154.32 458.44,1152.36 458.81,1150.39 459.18,1148.43 459.56,1146.46 459.93,1144.50 460.31,1142.53 460.68,1140.57 461.06,1138.61 461.43,1136.64 461.81,1134.68 462.19,1132.71 462.57,1130.75 462.95,1128.79 463.33,1126.82 463.71,1124.86 464.09,1122.90 464.47,1120.93 464.85,1118.97 465.24,1117.01 465.62,1115.05 466.00,1113.08 466.39,1111.12 466.77,1109.16 467.16,1107.19 467.54,1105.23 467.93,1103.27 468.31,1101.31 468.70,1099.34 469.09,1097.38 469.47,1095.42 469.86,1093.46 470.24,1091.50 470.63,1089.53 471.02,1087.57 471.40,1085.61 471.79,1083.65 472.18,1081.68 472.56,1079.72 472.95,1077.76 473.34,1075.80 473.72,1073.84 474.11,1071.87 474.49,1069.91 474.88,1067.95 475.26,1065.99 475.65,1064.02 476.03,1062.06 476.42,1060.10 476.80,1058.14 477.18,1056.17 477.57,1054.21 477.95,1052.25 478.33,1050.28 478.71,1048.32 479.09,1046.36 479.47,1044.39 479.85,1042.43 480.23,1040.47 480.61,1038.50 480.99,1036.54 481.36,1034.57 481.74,1032.61 482.12,1030.65 482.49,1028.68 482.87,1026.72 483.24,1024.75 483.62,1022.79 483.99,1020.82 484.37,1018.86 484.75,1016.90 485.12,1014.93 485.50,1012.97 485.88,1011.00 486.26,1009.04 486.64,1007.08 487.02,1005.11 487.41,1003.15 487.79,1001.19 488.18,999.23 488.57,997.27 488.96,995.30 489.35,993.34 489.75,991.38 490.15,989.42 490.55,987.46 490.95,985.51 491.36,983.55 491.77,981.59 492.18,979.63 492.60,977.68 493.02,975.72 493.44,973.77 493.87,971.81 494.30,969.86 494.74,967.91 495.18,965.96 495.62,964.01 496.07,962.06 496.52,960.11 496.98,958.16 497.44,956.22 497.91,954.27 498.39,952.33 498.86,950.39 499.35,948.45 499.84,946.51 500.33,944.57 500.83,942.64 501.34,940.70 501.85,938.77 502.37,936.84 502.90,934.91 503.43,932.98 503.97,931.05 504.52,929.13 505.07,927.21 505.63,925.29 506.20,923.37 506.78,921.46 507.36,919.54 507.95,917.63 508.54,915.72 509.14,913.81 509.74,911.91 510.34,910.00 510.93,908.09 511.52,906.18 512.10,904.26 512.67,902.35 513.23,900.43 513.78,898.50 514.31,896.57 514.83,894.64 515.34,892.71 515.87,890.78 516.42,888.86 517.02,886.95 517.68,885.06 518.41,883.20 519.24,881.38 520.17,879.61 521.22,877.91 522.38,876.28 523.62,874.72 524.91,873.19 526.22,871.67 527.53,870.16 528.82,868.63 530.06,867.06 531.28,865.48 532.54,863.92 533.88,862.44 535.35,861.09 536.99,859.95 538.80,859.10 540.75,858.68 542.72,858.95 544.50,859.85 546.07,861.08 547.48,862.50 548.75,864.04 549.89,865.68 550.95,867.38 551.95,869.11 552.93,870.86 553.90,872.61 554.86,874.36 555.80,876.12 556.73,877.89 557.65,879.67 558.54,881.46 559.41,883.26 560.25,885.08 561.07,886.90 561.85,888.74 562.60,890.60 563.32,892.46 564.00,894.35 564.64,896.24 565.24,898.14 565.82,900.06 566.36,901.98 566.88,903.92 567.37,905.86 567.84,907.80 568.29,909.75 568.71,911.70 569.12,913.66 569.52,915.62 569.90,917.58 570.28,919.55 570.64,921.51 571.00,923.48 571.35,925.45 571.70,927.42 572.06,929.39 572.41,931.36 572.77,933.32 573.13,935.29 573.50,937.26 573.87,939.22 574.25,941.19 574.63,943.15 575.01,945.11 575.40,947.07 575.79,949.03 576.19,950.99 576.59,952.95 576.99,954.91 577.40,956.87 577.81,958.83 578.22,960.79 578.64,962.74 579.06,964.70 579.48,966.65 579.90,968.61 580.32,970.56 580.75,972.52 581.18,974.47 581.61,976.42 582.04,978.38 582.47,980.33 582.90,982.28 583.34,984.23 583.77,986.18 584.21,988.14 584.65,990.09 585.08,992.04 585.52,993.99 585.96,995.94 586.40,997.89 586.83,999.85 587.27,1001.80 587.70,1003.75 588.14,1005.70 588.57,1007.65 589.01,1009.61 589.44,1011.56 589.87,1013.51 590.30,1015.46 590.72,1017.42 591.15,1019.37 591.57,1021.33 592.00,1023.28 592.42,1025.24 592.84,1027.19 593.26,1029.15 593.67,1031.10 594.09,1033.06 594.51,1035.02 594.92,1036.97 595.33,1038.93 595.75,1040.89 596.16,1042.84 596.57,1044.80 596.98,1046.76 597.40,1048.71 597.81,1050.67 598.22,1052.63 598.63,1054.59 599.04,1056.54 599.45,1058.50 599.86,1060.46 600.28,1062.41 600.69,1064.37 601.10,1066.33 601.52,1068.28 601.93,1070.24 602.35,1072.20 602.76,1074.15 603.18,1076.11 603.60,1078.06 604.02,1080.02 604.44,1081.98 604.86,1083.93 605.28,1085.88 605.71,1087.84 606.14,1089.79 606.57,1091.75 607.00,1093.70 607.43,1095.65 607.86,1097.60 608.30,1099.56 608.74,1101.51 609.18,1103.46 609.62,1105.41 610.07,1107.36 610.52,1109.31 610.97,1111.25 611.42,1113.20 611.88,1115.15 612.34,1117.09 612.80,1119.04 613.27,1120.99 613.74,1122.93 614.21,1124.87 614.69,1126.82 615.17,1128.76 615.65,1130.70 616.14,1132.64 616.63,1134.58 617.12,1136.51 617.62,1138.45 618.12,1140.39 618.63,1142.32 619.14,1144.26 619.65,1146.19 620.17,1148.12 620.70,1150.05 621.22,1151.98 621.76,1153.91 622.30,1155.83 622.84,1157.76 623.39,1159.68 623.94,1161.60 624.50,1163.52 625.06,1165.44 625.63,1167.36 626.20,1169.27 626.78,1171.19 627.36,1173.10 627.95,1175.01 628.55,1176.92 629.15,1178.83 629.76,1180.73 630.37,1182.64 630.99,1184.54 631.62,1186.44 632.25,1188.34 632.89,1190.23 633.53,1192.12 634.19,1194.02 634.84,1195.90 635.51,1197.79 636.18,1199.67 636.86,1201.56 637.54,1203.44 638.23,1205.31 638.93,1207.19 639.64,1209.06 640.35,1210.93 641.07,1212.79 641.80,1214.65 642.53,1216.51 643.27,1218.37 644.02,1220.23 644.78,1222.08 645.54,1223.93 646.31,1225.77 647.09,1227.61 647.88,1229.45 648.68,1231.28 649.48,1233.12 650.29,1234.94 651.11,1236.77 651.94,1238.59 652.78,1240.41 653.62,1242.22 654.47,1244.03 655.33,1245.83 656.20,1247.64 657.08,1249.43 657.96,1251.23 658.86,1253.01 659.76,1254.80 660.68,1256.58 661.62,1258.34 662.57,1260.10 663.56,1261.84 664.57,1263.56 665.62,1265.26 666.71,1266.94 667.85,1268.59 669.02,1270.20 670.26,1271.78 671.54,1273.31 672.88,1274.79 674.29,1276.22 675.75,1277.58 677.28,1278.87 678.87,1280.08 680.52,1281.22 682.22,1282.27 683.96,1283.25 685.75,1284.14 687.57,1284.97 689.43,1285.71 691.31,1286.39 693.22,1286.99 695.15,1287.52 697.09,1287.97 699.05,1288.36 701.03,1288.68 703.01,1288.92 705.01,1289.00 707.00,1289.00 709.00,1289.00 711.00,1289.00 713.00,1289.00 715.00,1289.00 717.00,1289.00 719.00,1289.00 721.00,1288.96 723.00,1288.93 725.00,1288.93 727.00,1288.97 728.99,1289.00 800.30,1289.00 812.30,1289.00 L812.3,1289.0"/>
</defs>
<rect width="831" height="1364" fill="#fff"/>
<text x="7.0" y="31.3" font-size="27.3">size 3</text>
<text x="156.2" y="31.3" font-size="27.3">size 4</text>
<text x="325.6" y="31.3" font-size="27.3">size 5</text>
<text x="514.4" y="31.3" font-size="27.3">size 6</text>
<text x="712.4" y="31.3" font-size="27.3">size 7</text>
<g filter="url(#sh)">
<polyline points="49.6,85.7 23.8,131.5 23.8,184.3 49.6,230.1" fill="none" stroke="#FF8C1A" stroke-width="13.2" stroke-linecap="round" stroke-linejoin="miter"/>
<polyline points="215.9,68.7 179.1,106.5 165.6,158.1 179.1,209.6 215.9,247.4" fill="none" stroke="#FF8C1A" stroke-width="13.0" stroke-linecap="round" stroke-linejoin="miter"/>
<polyline points="399.9,56.9 354.4,83.9 328.1,130.6 328.1,184.4 354.4,231.1 399.9,258.1" fill="none" stroke="#FF8C1A" stroke-width="12.3" stroke-linecap="round" stroke-linejoin="miter"/>
<polyline points="603.1,54.0 552.1,68.0 514.7,106.3 501.0,158.7 514.7,211.1 552.1,249.4 603.1,263.4" fill="none" stroke="#FF8C1A" stroke-width="12.5" stroke-linecap="round" stroke-linejoin="miter"/>
<polyline points="810.3,56.4 757.0,56.4 710.8,83.7 684.1,131.1 684.1,185.8 710.8,233.2 757.0,260.5 810.3,260.5" fill="none" stroke="#FF8C1A" stroke-width="12.5" stroke-linecap="round" stroke-linejoin="miter"/>
</g>
<text x="8.5" y="269.8" font-size="27.9">(a)</text>
<g clip-path="url(#cb)"><g transform="translate(0,0.6)">
<use href="#p0" fill="#5E81B5" fill-opacity="0.2" stroke="none"/>
<use href="#p1" fill="#E19C24" fill-opacity="0.2" stroke="none"/>
<use href="#p2" fill="#8FB032" fill-opacity="0.2" stroke="none"/>
<use href="#p3" fill="#EB6235" fill-opacity="0.2" stroke="none"/>
<use href="#p4" fill="#8778B3" fill-opacity="0.2" stroke="none"/>
<use href="#p0" fill="none" stroke="#5E81B5" stroke-width="4.6" stroke-linejoin="round"/>
<use href="#p1" fill="none" stroke="#E19C24" stroke-width="4.6" stroke-linejoin="round"/>
<use href="#p2" fill="none" stroke="#8FB032" stroke-width="4.6" stroke-linejoin="round"/>
<use href="#p3" fill="none" stroke="#EB6235" stroke-width="4.6" stroke-linejoin="round"/>
<use href="#p4" fill="none" stroke="#8778B3" stroke-width="4.6" stroke-linejoin="round"/>
</g></g>
<path d="M113.09,749.60L113.09,737.10 M113.09,312.30L113.09,324.80 M207.44,749.60L207.44,737.10 M207.44,312.30L207.44,324.80 M301.80,749.60L301.80,737.10 M301.80,312.30L301.80,324.80 M396.15,749.60L396.15,737.10 M396.15,312.30L396.15,324.80 M490.50,749.60L490.50,737.10 M490.50,312.30L490.50,324.80 M584.86,749.60L584.86,737.10 M584.86,312.30L584.86,324.80 M679.21,749.60L679.21,737.10 M679.21,312.30L679.21,324.80 M773.57,749.60L773.57,737.10 M773.57,312.30L773.57,324.80 M136.68,749.60L136.68,742.40 M136.68,312.30L136.68,319.50 M160.27,749.60L160.27,742.40 M160.27,312.30L160.27,319.50 M183.85,749.60L183.85,742.40 M183.85,312.30L183.85,319.50 M231.03,749.60L231.03,742.40 M231.03,312.30L231.03,319.50 M254.62,749.60L254.62,742.40 M254.62,312.30L254.62,319.50 M278.21,749.60L278.21,742.40 M278.21,312.30L278.21,319.50 M325.38,749.60L325.38,742.40 M325.38,312.30L325.38,319.50 M348.97,749.60L348.97,742.40 M348.97,312.30L348.97,319.50 M372.56,749.60L372.56,742.40 M372.56,312.30L372.56,319.50 M419.74,749.60L419.74,742.40 M419.74,312.30L419.74,319.50 M443.33,749.60L443.33,742.40 M443.33,312.30L443.33,319.50 M466.92,749.60L466.92,742.40 M466.92,312.30L466.92,319.50 M514.09,749.60L514.09,742.40 M514.09,312.30L514.09,319.50 M537.68,749.60L537.68,742.40 M537.68,312.30L537.68,319.50 M561.27,749.60L561.27,742.40 M561.27,312.30L561.27,319.50 M608.45,749.60L608.45,742.40 M608.45,312.30L608.45,319.50 M632.04,749.60L632.04,742.40 M632.04,312.30L632.04,319.50 M655.62,749.60L655.62,742.40 M655.62,312.30L655.62,319.50 M702.80,749.60L702.80,742.40 M702.80,312.30L702.80,319.50 M726.39,749.60L726.39,742.40 M726.39,312.30L726.39,319.50 M749.98,749.60L749.98,742.40 M749.98,312.30L749.98,319.50 M89.50,647.95L102.00,647.95 M797.15,647.95L784.65,647.95 M89.50,546.30L102.00,546.30 M797.15,546.30L784.65,546.30 M89.50,444.65L102.00,444.65 M797.15,444.65L784.65,444.65 M89.50,343.00L102.00,343.00 M797.15,343.00L784.65,343.00 M89.50,724.19L96.70,724.19 M797.15,724.19L789.95,724.19 M89.50,698.77L96.70,698.77 M797.15,698.77L789.95,698.77 M89.50,673.36L96.70,673.36 M797.15,673.36L789.95,673.36 M89.50,622.54L96.70,622.54 M797.15,622.54L789.95,622.54 M89.50,597.12L96.70,597.12 M797.15,597.12L789.95,597.12 M89.50,571.71L96.70,571.71 M797.15,571.71L789.95,571.71 M89.50,520.89L96.70,520.89 M797.15,520.89L789.95,520.89 M89.50,495.48L96.70,495.48 M797.15,495.48L789.95,495.48 M89.50,470.06L96.70,470.06 M797.15,470.06L789.95,470.06 M89.50,419.24L96.70,419.24 M797.15,419.24L789.95,419.24 M89.50,393.82L96.70,393.82 M797.15,393.82L789.95,393.82 M89.50,368.41L96.70,368.41 M797.15,368.41L789.95,368.41 M89.50,317.59L96.70,317.59 M797.15,317.59L789.95,317.59" stroke="#262626" stroke-width="1.4" fill="none"/>
<rect x="89.5" y="312.3" width="707.65" height="437.30" fill="none" stroke="#000" stroke-width="1.5"/>
<text x="100.7" y="775.9" font-size="23.6">40<tspan font-size="13.0" dy="-10.4">o</tspan></text>
<text x="195.0" y="775.9" font-size="23.6">60<tspan font-size="13.0" dy="-10.4">o</tspan></text>
<text x="289.4" y="775.9" font-size="23.6">80<tspan font-size="13.0" dy="-10.4">o</tspan></text>
<text x="378.7" y="775.9" font-size="23.6">100<tspan font-size="13.0" dy="-10.4">o</tspan></text>
<text x="473.0" y="775.9" font-size="23.6">120<tspan font-size="13.0" dy="-10.4">o</tspan></text>
<text x="567.4" y="775.9" font-size="23.6">140<tspan font-size="13.0" dy="-10.4">o</tspan></text>
<text x="661.7" y="775.9" font-size="23.6">160<tspan font-size="13.0" dy="-10.4">o</tspan></text>
<text x="756.1" y="775.9" font-size="23.6">180<tspan font-size="13.0" dy="-10.4">o</tspan></text>
<text x="75.8" y="758.8" font-size="23.6" text-anchor="end">0</text>
<text x="83.0" y="656.4" font-size="23.6" text-anchor="end">0.02</text>
<text x="83.0" y="554.7" font-size="23.6" text-anchor="end">0.04</text>
<text x="83.0" y="453.1" font-size="23.6" text-anchor="end">0.06</text>
<text x="83.0" y="351.4" font-size="23.6" text-anchor="end">0.08</text>
<text x="457.6" y="807.3" font-size="27.6" text-anchor="middle">induced angle</text>
<text transform="translate(27,532.5) rotate(-90)" font-size="27.5" text-anchor="middle">probability</text>
<text x="7.5" y="770" font-size="27.9">(b)</text>
<rect x="110.1" y="330.8" width="257.8" height="38.1" fill="#fff" stroke="#404040" stroke-width="1.3"/>
<text x="113.1" y="357.7" font-size="27.5" style="fill:#000">binding cutoff</text><text x="285.5" y="357.7" font-size="27.9" style="fill:#000"><tspan font-family="Liberation Serif, serif">θ</tspan><tspan font-size="17.3" dx="0.6" dy="4.7">c</tspan><tspan dy="-4.7">=10</tspan><tspan font-size="17.6" dx="-0.8" dy="-10.7">o</tspan></text>
<text x="136.5" y="711.3" font-size="27.6" style="fill:#5E81B5">size 3</text>
<text x="279.7" y="712.6" font-size="27.6" style="fill:#E19C24">size 4</text>
<text x="419.3" y="713.5" font-size="27.6" style="fill:#8FB032">size 5</text>
<text x="567.2" y="713.3" font-size="27.6" style="fill:#EB6235">size 6</text>
<text x="690" y="712.7" font-size="27.6" style="fill:#8778B3">size 7</text>
<g clip-path="url(#cc)"><g transform="translate(0,0)">
<use href="#p5" fill="#5E81B5" fill-opacity="0.2" stroke="none"/>
<use href="#p6" fill="#E19C24" fill-opacity="0.2" stroke="none"/>
<use href="#p7" fill="#8FB032" fill-opacity="0.2" stroke="none"/>
<use href="#p5" fill="none" stroke="#5E81B5" stroke-width="4.6" stroke-linejoin="round"/>
<use href="#p6" fill="none" stroke="#E19C24" stroke-width="4.6" stroke-linejoin="round"/>
<use href="#p7" fill="none" stroke="#8FB032" stroke-width="4.6" stroke-linejoin="round"/>
</g></g>
<path d="M88.40,1289.00L88.40,1276.50 M88.40,848.60L88.40,861.10 M207.05,1289.00L207.05,1276.50 M207.05,848.60L207.05,861.10 M325.70,1289.00L325.70,1276.50 M325.70,848.60L325.70,861.10 M444.35,1289.00L444.35,1276.50 M444.35,848.60L444.35,861.10 M563.00,1289.00L563.00,1276.50 M563.00,848.60L563.00,861.10 M681.65,1289.00L681.65,1276.50 M681.65,848.60L681.65,861.10 M800.30,1289.00L800.30,1276.50 M800.30,848.60L800.30,861.10 M112.13,1289.00L112.13,1281.80 M112.13,848.60L112.13,855.80 M135.86,1289.00L135.86,1281.80 M135.86,848.60L135.86,855.80 M159.59,1289.00L159.59,1281.80 M159.59,848.60L159.59,855.80 M183.32,1289.00L183.32,1281.80 M183.32,848.60L183.32,855.80 M230.78,1289.00L230.78,1281.80 M230.78,848.60L230.78,855.80 M254.51,1289.00L254.51,1281.80 M254.51,848.60L254.51,855.80 M278.24,1289.00L278.24,1281.80 M278.24,848.60L278.24,855.80 M301.97,1289.00L301.97,1281.80 M301.97,848.60L301.97,855.80 M349.43,1289.00L349.43,1281.80 M349.43,848.60L349.43,855.80 M373.16,1289.00L373.16,1281.80 M373.16,848.60L373.16,855.80 M396.89,1289.00L396.89,1281.80 M396.89,848.60L396.89,855.80 M420.62,1289.00L420.62,1281.80 M420.62,848.60L420.62,855.80 M468.08,1289.00L468.08,1281.80 M468.08,848.60L468.08,855.80 M491.81,1289.00L491.81,1281.80 M491.81,848.60L491.81,855.80 M515.54,1289.00L515.54,1281.80 M515.54,848.60L515.54,855.80 M539.27,1289.00L539.27,1281.80 M539.27,848.60L539.27,855.80 M586.73,1289.00L586.73,1281.80 M586.73,848.60L586.73,855.80 M610.46,1289.00L610.46,1281.80 M610.46,848.60L610.46,855.80 M634.19,1289.00L634.19,1281.80 M634.19,848.60L634.19,855.80 M657.92,1289.00L657.92,1281.80 M657.92,848.60L657.92,855.80 M705.38,1289.00L705.38,1281.80 M705.38,848.60L705.38,855.80 M729.11,1289.00L729.11,1281.80 M729.11,848.60L729.11,855.80 M752.84,1289.00L752.84,1281.80 M752.84,848.60L752.84,855.80 M776.57,1289.00L776.57,1281.80 M776.57,848.60L776.57,855.80 M88.40,1169.95L100.90,1169.95 M800.30,1169.95L787.80,1169.95 M88.40,1050.90L100.90,1050.90 M800.30,1050.90L787.80,1050.90 M88.40,931.85L100.90,931.85 M800.30,931.85L787.80,931.85 M88.40,1265.19L95.60,1265.19 M800.30,1265.19L793.10,1265.19 M88.40,1241.38L95.60,1241.38 M800.30,1241.38L793.10,1241.38 M88.40,1217.57L95.60,1217.57 M800.30,1217.57L793.10,1217.57 M88.40,1193.76L95.60,1193.76 M800.30,1193.76L793.10,1193.76 M88.40,1146.14L95.60,1146.14 M800.30,1146.14L793.10,1146.14 M88.40,1122.33L95.60,1122.33 M800.30,1122.33L793.10,1122.33 M88.40,1098.52L95.60,1098.52 M800.30,1098.52L793.10,1098.52 M88.40,1074.71L95.60,1074.71 M800.30,1074.71L793.10,1074.71 M88.40,1027.09L95.60,1027.09 M800.30,1027.09L793.10,1027.09 M88.40,1003.28L95.60,1003.28 M800.30,1003.28L793.10,1003.28 M88.40,979.47L95.60,979.47 M800.30,979.47L793.10,979.47 M88.40,955.66L95.60,955.66 M800.30,955.66L793.10,955.66 M88.40,908.04L95.60,908.04 M800.30,908.04L793.10,908.04 M88.40,884.23L95.60,884.23 M800.30,884.23L793.10,884.23 M88.40,860.42L95.60,860.42 M800.30,860.42L793.10,860.42" stroke="#262626" stroke-width="1.4" fill="none"/>
<rect x="88.4" y="848.6" width="711.90" height="440.40" fill="none" stroke="#000" stroke-width="1.5"/>
<text x="76.0" y="1315.6" font-size="23.6">40<tspan font-size="13.0" dy="-10.4">o</tspan></text>
<text x="194.6" y="1315.6" font-size="23.6">45<tspan font-size="13.0" dy="-10.4">o</tspan></text>
<text x="313.3" y="1315.6" font-size="23.6">50<tspan font-size="13.0" dy="-10.4">o</tspan></text>
<text x="431.9" y="1315.6" font-size="23.6">55<tspan font-size="13.0" dy="-10.4">o</tspan></text>
<text x="550.6" y="1315.6" font-size="23.6">60<tspan font-size="13.0" dy="-10.4">o</tspan></text>
<text x="669.2" y="1315.6" font-size="23.6">65<tspan font-size="13.0" dy="-10.4">o</tspan></text>
<text x="787.9" y="1315.6" font-size="23.6">70<tspan font-size="13.0" dy="-10.4">o</tspan></text>
<text x="75.8" y="1296.1" font-size="23.6" text-anchor="end">0</text>
<text x="83.3" y="1177.4" font-size="23.6" text-anchor="end">0.05</text>
<text x="83.3" y="1058.3" font-size="23.6" text-anchor="end">0.10</text>
<text x="83.3" y="939.2" font-size="23.6" text-anchor="end">0.15</text>
<text x="458.6" y="1346.0" font-size="27.6" text-anchor="middle">induced angle</text>
<text transform="translate(27,1069.5) rotate(-90)" font-size="27.5" text-anchor="middle">probability</text>
<text x="7.5" y="1311.3" font-size="27.9">(c)</text>
<rect x="113.4" y="866.8" width="179.7" height="38.5" fill="#fff" stroke="#404040" stroke-width="1.3"/>
<text x="117" y="894.7" font-size="27.9">particle size 3</text>
<text x="121.4" y="1106.8" font-size="27.5" style="fill:#5E81B5">binding cutoff</text><text x="293.2" y="1106.8" font-size="27.9" style="fill:#5E81B5"><tspan font-family="Liberation Serif, serif">θ</tspan><tspan font-size="17.3" dx="0.6" dy="6.8">c</tspan><tspan dy="-6.8">=10</tspan><tspan font-size="17.6" dx="-0.8" dy="-10.7">o</tspan></text>
<text x="389.6" y="1038.4" font-size="27.9" style="fill:#E19C24"><tspan font-family="Liberation Serif, serif">θ</tspan><tspan font-size="17.3" dx="0.6" dy="8.6">c</tspan><tspan dy="-8.6">=5</tspan><tspan font-size="17.6" dx="-0.8" dy="-9.6">o</tspan></text>
<text x="431.0" y="934.1" font-size="27.9" style="fill:#8FB032"><tspan font-family="Liberation Serif, serif">θ</tspan><tspan font-size="17.3" dx="0.6" dy="8.6">c</tspan><tspan dy="-8.6">=3</tspan><tspan font-size="17.6" dx="-0.8" dy="-9.6">o</tspan></text>
</svg>
</body></html>
